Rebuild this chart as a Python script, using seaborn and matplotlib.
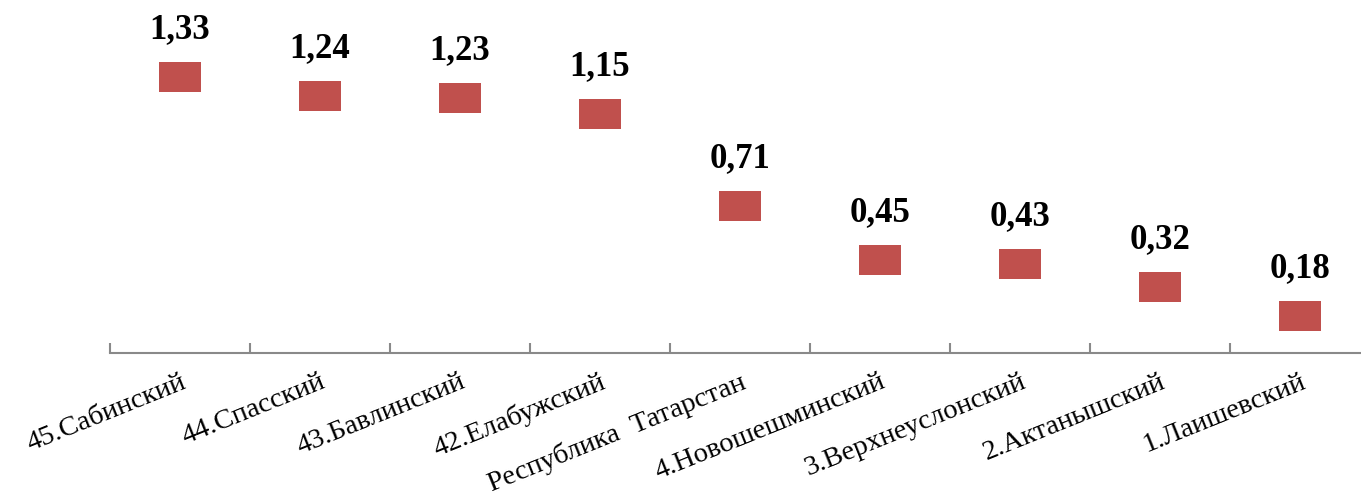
import numpy as np
import pandas as pd
import seaborn as sns
import matplotlib.pyplot as plt
from matplotlib.path import Path

# data
districts = ['45.Сабинский', '44.Спасский', '43.Бавлинский', '42.Елабужский',
             'Республика  Татарстан', '4.Новошешминский', '3.Верхнеуслонский',
             '2.Актанышский', '1.Лаишевский']
values = [1.33, 1.24, 1.23, 1.15, 0.71, 0.45, 0.43, 0.32, 0.18]
value_labels = ['1,33', '1,24', '1,23', '1,15', '0,71', '0,45', '0,43', '0,32', '0,18']

df = pd.DataFrame({'district': districts, 'value': values})

sns.set_style('white')
plt.rcParams['font.family'] = ['Liberation Serif', 'DejaVu Serif']

fig = plt.figure(figsize=(13.61, 5.01), dpi=100)
ax = fig.add_axes([110 / 1361, (501 - 353) / 501, 1260 / 1361, 353 / 501])

# rectangular marker, wider than tall
rect = Path([(-1, -0.72), (1, -0.72), (1, 0.72), (-1, 0.72), (-1, -0.72)],
            [Path.MOVETO, Path.LINETO, Path.LINETO, Path.LINETO, Path.CLOSEPOLY])

sns.scatterplot(data=df, x='district', y='value', marker=rect, s=900,
                color='#C0504D', linewidth=0, ax=ax, zorder=3)

for i, (v, lab) in enumerate(zip(values, value_labels)):
    ax.annotate(lab, (i, v), xytext=(0, 28), textcoords='offset points',
                ha='center', va='baseline', fontsize=25, fontweight='bold',
                color='black')

ax.set_xlim(-0.5, 8.5)
ax.set_ylim(0, 1.70)
ax.set_xlabel('')
ax.set_ylabel('')
ax.set_yticks([])

ax.set_xticks(range(len(districts)))
ax.set_xticklabels(districts, rotation=22, ha='right', rotation_mode='anchor',
                   fontsize=20.5, color='black')
ax.tick_params(axis='x', which='major', length=0, pad=12)
ax.set_xticks(np.arange(-0.5, 9, 1), minor=True)
ax.tick_params(axis='x', which='minor', bottom=True, direction='in', length=7,
               width=1.5, color='#898989')

for s in ['top', 'right', 'left']:
    ax.spines[s].set_visible(False)
ax.spines['bottom'].set_color('#898989')
ax.spines['bottom'].set_linewidth(1.5)

fig.savefig('out.png', dpi=100)
